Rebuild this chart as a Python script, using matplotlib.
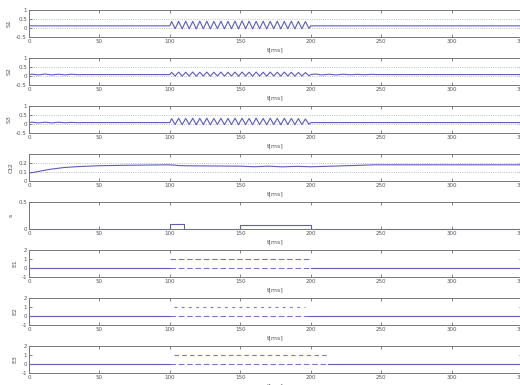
import numpy as np
import matplotlib
matplotlib.use("Agg")
import matplotlib.pyplot as plt
from matplotlib.ticker import FuncFormatter

# panel labels and axis settings
y_labels = ["S1", "S2", "S3", "Ct2", "s", "E1", "E2", "E3"]
x_ticks = [0, 50, 100, 150, 200, 250, 300, 350]

# S1: flat, 20 cycles of oscillation between 100 and 200 ms, flat again
s1_base = 0.12
s1_peaks = [0.36, 0.37, 0.38, 0.37, 0.38, 0.38, 0.37, 0.38, 0.37, 0.38,
            0.40, 0.38, 0.37, 0.38, 0.37, 0.38, 0.37, 0.38, 0.37, 0.36]
s1_troughs = [-0.04, -0.05, -0.04, -0.05, -0.04, -0.05, -0.04, -0.05, -0.04, -0.05,
              -0.04, -0.05, -0.04, -0.05, -0.04, -0.05, -0.04, -0.05, -0.04, -0.03]

# S2: small ripple early and late, weaker oscillation in the middle
s2_base = 0.08
s2_early = [0.10, 0.06, 0.11, 0.06, 0.10, 0.06, 0.10, 0.07]
s2_peaks = [0.20, 0.22, 0.21, 0.22, 0.21, 0.22, 0.21, 0.22, 0.21, 0.22,
            0.22, 0.21, 0.22, 0.21, 0.22, 0.21, 0.22, 0.21, 0.20, 0.19]
s2_troughs = [0.00, -0.01, 0.00, -0.01, 0.00, -0.01, 0.00, -0.01, 0.00, -0.01,
              0.00, -0.01, 0.00, -0.01, 0.00, -0.01, 0.00, -0.01, 0.00, 0.01]
s2_late = [0.11, 0.06, 0.10, 0.06, 0.10, 0.07, 0.09, 0.07, 0.09, 0.08]

# S3
s3_base = 0.08
s3_early = [0.10, 0.06, 0.10, 0.06, 0.10, 0.07, 0.09, 0.07]
s3_peaks = [0.30, 0.32, 0.31, 0.32, 0.31, 0.32, 0.31, 0.32, 0.31, 0.32,
            0.32, 0.31, 0.32, 0.31, 0.32, 0.31, 0.32, 0.31, 0.30, 0.28]
s3_troughs = [-0.03, -0.04, -0.03, -0.04, -0.03, -0.04, -0.03, -0.04, -0.03, -0.04,
              -0.03, -0.04, -0.03, -0.04, -0.03, -0.04, -0.03, -0.04, -0.03, -0.02]

# Ct2
ct2_t = [0, 3, 8, 15, 25, 35, 50, 70, 100, 108, 120, 150, 160, 170, 180, 190, 200, 215, 230, 245, 350]
ct2_v = [0.09, 0.095, 0.11, 0.13, 0.15, 0.16, 0.17, 0.175, 0.18, 0.17, 0.168, 0.165,
         0.158, 0.165, 0.157, 0.163, 0.158, 0.165, 0.172, 0.18, 0.18]

# s: step signal
s_t = [0, 100, 110, 150, 200, 350]
s_v = [0, 0.1, 0, 0.08, 0, 0]

# E1..E3: switching windows (upper and lower dashed parts)
e_upper = [(100, 200), (103, 196), (103, 212)]
e_lower = [(100, 200), (100, 198), (100, 212)]
e_upper_dash = [(5, 2.5), (2.5, 4), (4, 3)]

ylims = [(-0.5, 1), (-0.5, 1), (-0.5, 1), (0, 0.3), (0, 0.5), (-1, 2), (-1, 2), (-1, 2)]
yticks = [[-0.5, 0, 0.5, 1]] * 3 + [[0, 0.1, 0.2], [0, 0.5]] + [[-1, 0, 1, 2]] * 3

line_c = "#5c5cbf"
dash_c = "#7a7ac4"


def wave(base, peaks, troughs, early=None, late=None):
    t = [0]
    v = [base]
    if early is not None:
        te = np.linspace(2, 35, len(early))
        t += list(te)
        v += list(early)
        t.append(38)
        v.append(base)
    t.append(100)
    v.append(base)
    for k in range(len(peaks)):
        t += [100 + 5 * k + 1.25, 100 + 5 * k + 3.75]
        v += [peaks[k], troughs[k]]
    t.append(200)
    v.append(base)
    if late is not None:
        tl = np.linspace(203, 248, len(late))
        t += list(tl)
        v += list(late)
        t.append(252)
        v.append(base)
    t.append(350)
    v.append(base)
    return t, v


fig = plt.figure(figsize=(5.2, 3.85), dpi=100)
W, H = 520.0, 385.0
tops = [10, 58, 106, 154, 202, 250, 298, 346]


def fmt(v, pos):
    if abs(v) < 1e-9:
        return "0"
    return ("%g" % v)


axes = []
for i in range(8):
    ax = fig.add_axes([29 / W, 1 - (tops[i] + 27) / H, (522 - 29) / W, 27 / H])
    axes.append(ax)
    ax.set_xlim(0, 350)
    ax.set_ylim(*ylims[i])
    ax.set_xticks(x_ticks)
    ax.set_yticks(yticks[i])
    ax.yaxis.set_major_formatter(FuncFormatter(fmt))
    ax.tick_params(direction="in", top=True, right=True, length=2.5, width=0.5,
                   labelsize=4, pad=1.5, colors="#555555")
    for sp in ax.spines.values():
        sp.set_color("#777777")
        sp.set_linewidth(0.7)
    ax.set_ylabel(y_labels[i], fontsize=4.5, color="#555555", labelpad=3)
    ax.set_xlabel("t[ms]", fontsize=4.5, color="#555555", labelpad=2)
    if i < 4:
        ax.yaxis.grid(True, linestyle=":", color="#aaaaaa", linewidth=0.6)

t, v = wave(s1_base, s1_peaks, s1_troughs)
axes[0].plot(t, v, color=line_c, lw=0.8)
t, v = wave(s2_base, s2_peaks, s2_troughs, s2_early, s2_late)
axes[1].plot(t, v, color=line_c, lw=0.8)
t, v = wave(s3_base, s3_peaks, s3_troughs, s3_early)
axes[2].plot(t, v, color=line_c, lw=0.8)
axes[3].plot(ct2_t, ct2_v, color=line_c, lw=0.8)
axes[4].plot(s_t, s_v, color=line_c, lw=0.8, drawstyle="steps-post", clip_on=False)

for k in range(3):
    ax = axes[5 + k]
    lo = e_lower[k]
    up = e_upper[k]
    ax.plot([0, lo[0]], [0, 0], color=line_c, lw=0.8)
    ax.plot([lo[1], 350], [0, 0], color=line_c, lw=0.8)
    ax.plot([lo[0], lo[1]], [0, 0], color=dash_c, lw=0.8, linestyle=(0, (5, 2.5)))
    ax.plot([up[0], up[1]], [1, 1], color=dash_c, lw=0.8, linestyle=(0, e_upper_dash[k]))

fig.savefig("out.png", dpi=100)
